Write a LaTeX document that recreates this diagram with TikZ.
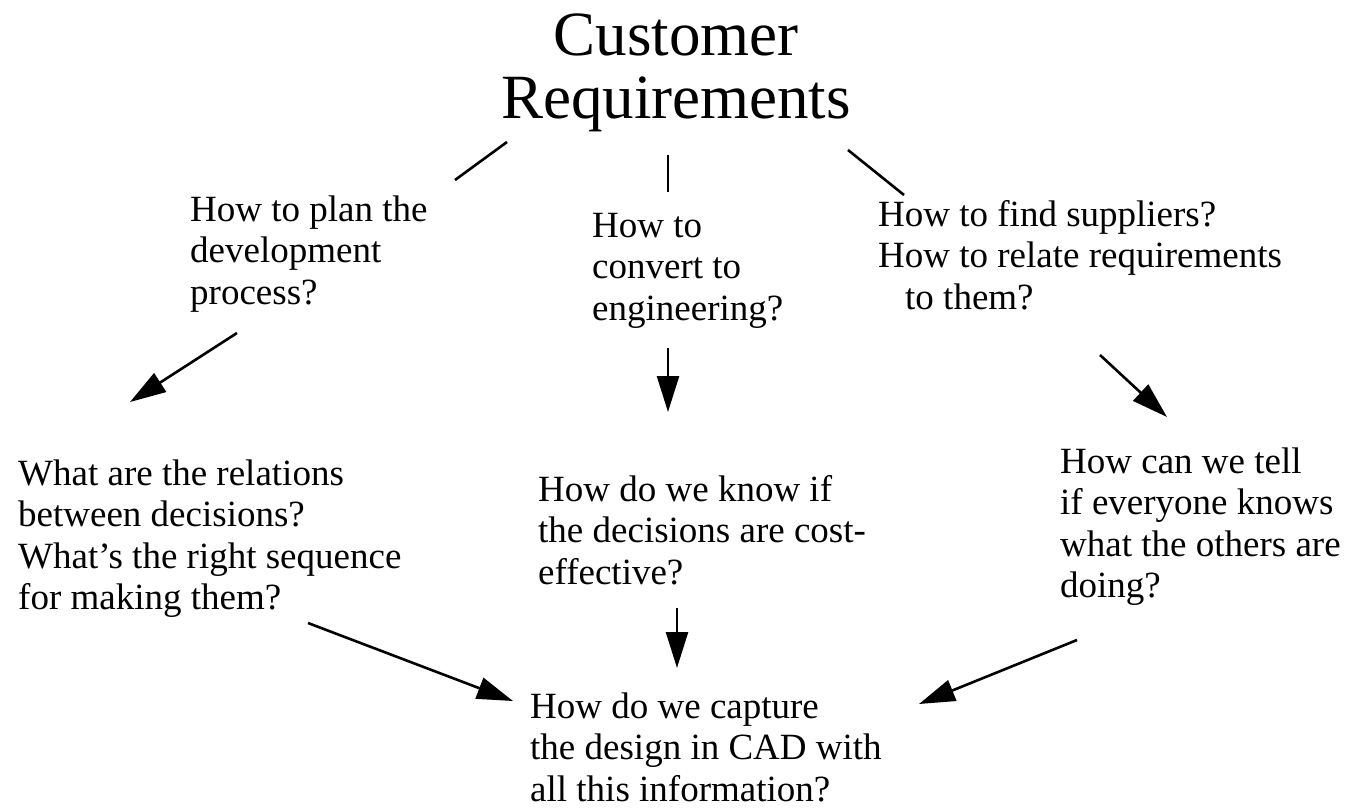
\documentclass[tikz,border=0pt]{standalone}
\usepackage{fontspec}
\setmainfont{Liberation Serif}
\usetikzlibrary{arrows.meta}
\begin{document}
\begin{tikzpicture}[x=1pt,y=-1pt,
  q/.style={anchor=base west, align=left, inner sep=0pt, font=\fontsize{37}{41.5}\selectfont},
  conn/.style={line width=2.6pt},
  arr/.style={line width=2.6pt, -{Triangle[length=36pt,width=22pt]}}]
\useasboundingbox (0,0) rectangle (1347,809);

% base anchor of a multi-line node lies on its last line
\node[anchor=base, align=center, inner sep=0pt, font=\fontsize{63}{63}\selectfont] (title) at (676,118) {Customer\\Requirements};

\node[q] (plan) at (190,304) {How to plan the\\development\\process?};
\node[q] (convert) at (592,320) {How to\\convert to\\engineering?};
\node[q] (suppliers) at (878,309) {How to find suppliers?\\How to relate requirements\\\hspace*{27pt}to them?};
\node[q] (relations) at (18,609.5) {What are the relations\\between decisions?\\What’s the right sequence\\for making them?};
\node[q] (costeff) at (538,584) {How do we know if\\the decisions are cost-\\effective?};
\node[q] (tell) at (1060,597.5) {How can we tell\\if everyone knows\\what the others are\\doing?};
\node[q] (capture) at (530,801) {How do we capture\\the design in CAD with\\all this information?};

% connectors from title to first-level questions
\coordinate (t1a) at (507,142);
\coordinate (t1b) at (455,180);
\coordinate (t2a) at (668,155);
\coordinate (t2b) at (668,192);
\coordinate (t3a) at (848,150);
\coordinate (t3b) at (904,195);
\draw[conn] (t1a) -- (t1b);
\draw[conn] (t2a) -- (t2b);
\draw[conn] (t3a) -- (t3b);

% arrows to second level
\coordinate (a1s) at (237,333);
\coordinate (a1e) at (130,402);
\coordinate (a2s) at (668,348);
\coordinate (a2e) at (668,412);
\coordinate (a3s) at (1100,355);
\coordinate (a3e) at (1167,417);
\draw[arr] (a1s) -- (a1e);
\draw[arr] (a2s) -- (a2e);
\draw[arr] (a3s) -- (a3e);

% arrows to final question
\coordinate (b1s) at (308,623);
\coordinate (b1e) at (513,701);
\coordinate (b2s) at (677,608);
\coordinate (b2e) at (677,668);
\coordinate (b3s) at (1077,640);
\coordinate (b3e) at (919,704);
\draw[arr] (b1s) -- (b1e);
\draw[arr] (b2s) -- (b2e);
\draw[arr] (b3s) -- (b3e);
\end{tikzpicture}
\end{document}
